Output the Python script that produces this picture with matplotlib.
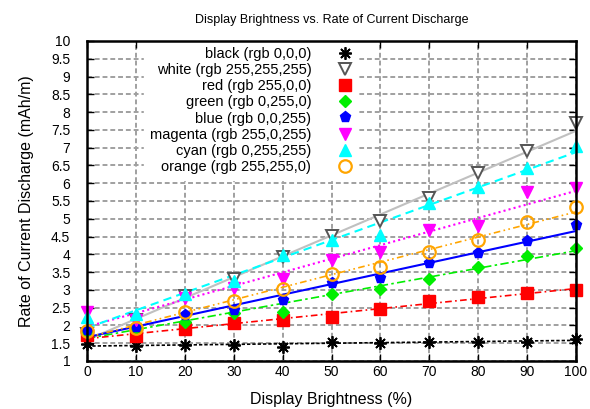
import numpy as np
import matplotlib
matplotlib.use("Agg")
import matplotlib.pyplot as plt

plt.rcParams['font.family'] = ['Liberation Sans', 'DejaVu Sans']

brightness = [0, 10, 20, 30, 40, 50, 60, 70, 80, 90, 100]

black   = [1.47, 1.43, 1.45, 1.45, 1.40, 1.54, 1.52, 1.54, 1.54, 1.54, 1.62]
white   = [1.75, 2.15, 2.82, 3.30, 3.93, 4.52, 4.94, 5.58, 6.29, 6.91, 7.68]
red     = [1.72, 1.70, 1.90, 2.07, 2.15, 2.25, 2.46, 2.70, 2.81, 2.90, 3.00]
green   = [1.80, 1.92, 2.10, 2.36, 2.39, 2.88, 3.02, 3.31, 3.65, 3.95, 4.17]
blue    = [1.88, 1.96, 2.29, 2.44, 2.72, 3.18, 3.33, 3.75, 4.05, 4.37, 4.82]
magenta = [2.37, 2.15, 2.76, 3.05, 3.30, 3.84, 4.06, 4.68, 4.80, 5.76, 5.86]
cyan    = [2.25, 2.32, 2.88, 3.25, 3.98, 4.40, 4.54, 5.45, 5.88, 6.42, 7.05]
orange  = [1.85, 1.93, 2.38, 2.69, 3.02, 3.45, 3.65, 4.07, 4.40, 4.92, 5.34]

labels = ["black (rgb 0,0,0)", "white (rgb 255,255,255)", "red (rgb 255,0,0)",
          "green (rgb 0,255,0)", "blue (rgb 0,0,255)", "magenta (rgb 255,0,255)",
          "cyan (rgb 0,255,255)", "orange (rgb 255,255,0)"]

series = [black, white, red, green, blue, magenta, cyan, orange]

styles = [
    dict(marker=(8, 2, 0), mfc='black', mec='black', ms=9, mew=1.3,
         lcolor='black', ls=(0, (2, 1.2)), lw=1.2),
    dict(marker='v', mfc='white', mec='#555555', ms=8, mew=1.4,
         lcolor='#c0c0c0', ls='-', lw=1.5),
    dict(marker='s', mfc='red', mec='red', ms=8, mew=1,
         lcolor='red', ls=(0, (4, 2, 1, 2)), lw=1.2),
    dict(marker='D', mfc='#00ee00', mec='#00ee00', ms=6, mew=1,
         lcolor='#00ee00', ls=(0, (5, 2, 1.5, 2)), lw=1.2),
    dict(marker='p', mfc='blue', mec='blue', ms=8, mew=1,
         lcolor='blue', ls='-', lw=1.5),
    dict(marker='v', mfc='magenta', mec='magenta', ms=8, mew=1,
         lcolor='magenta', ls=(0, (1, 1.5)), lw=1.5),
    dict(marker='^', mfc='cyan', mec='cyan', ms=8, mew=1,
         lcolor='cyan', ls=(0, (4, 2.5)), lw=1.5),
    dict(marker='o', mfc='none', mec='#ffa500', ms=9, mew=1.6,
         lcolor='#ffa500', ls=(0, (4, 2, 1, 2, 1, 2)), lw=1.2),
]

fig = plt.figure(figsize=(5.9, 4.09), dpi=100)
ax = fig.add_axes([87/590, 1-361/409, (576-87)/590, (361-41)/409])

x = np.array(brightness, dtype=float)
xf = np.linspace(0, 100, 50)
handles = []
for vals, st, lab in zip(series, styles, labels):
    p = np.polyfit(x, np.array(vals), 1)
    ax.plot(xf, np.polyval(p, xf), color=st['lcolor'], ls=st['ls'], lw=st['lw'], zorder=3)
    h, = ax.plot(x, vals, ls='none', marker=st['marker'], ms=st['ms'], mfc=st['mfc'],
                 mec=st['mec'], mew=st['mew'], zorder=4, clip_on=False, label=lab)
    handles.append(h)

ax.set_xlim(0, 100)
ax.set_ylim(1, 10)
ax.set_xticks(np.arange(0, 101, 10))
yt = np.arange(1, 10.01, 0.5)
ax.set_yticks(yt)
ax.set_yticklabels([('%g' % v) for v in yt])
ax.tick_params(direction='in', length=5, width=1, top=True, right=True, labelsize=10)
ax.tick_params(axis='x', pad=3)
ax.tick_params(axis='y', pad=12)
ax.grid(True, color='#a0a0a0', ls=(0, (2.5, 1.5)), lw=1.4, zorder=1)
ax.set_axisbelow(True)
for s in ax.spines.values():
    s.set_linewidth(1.8)
    s.set_zorder(6)

ax.set_xlabel('Display Brightness (%)', fontsize=11.5, labelpad=9)
ax.set_ylabel('Rate of Current Discharge (mAh/m)', fontsize=11.5, labelpad=12)
ax.set_title('Display Brightness vs. Rate of Current Discharge', fontsize=9, pad=13)

leg = ax.legend(handles=handles, loc='upper right', bbox_to_anchor=((358 - 87) / 489, 1.0),
                markerfirst=False, frameon=True,
                fancybox=False, framealpha=1, edgecolor='white', facecolor='white',
                fontsize=10.5, labelspacing=0.15, handlelength=1.0, handletextpad=1.8,
                borderaxespad=0.0, borderpad=0.4, numpoints=1)
leg.set_zorder(5)

fig.savefig('out.png', dpi=100)
